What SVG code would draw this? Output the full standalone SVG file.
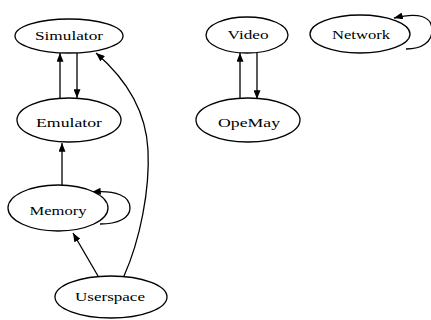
<svg xmlns="http://www.w3.org/2000/svg" width="431" height="320" viewBox="0 0 431 320">
<style>
.node ellipse{fill:#fff;stroke:#000;stroke-width:1.3}
.node text{font-family:"Liberation Serif","DejaVu Serif",serif;font-size:12px;fill:#000;text-anchor:middle}
.edges path{fill:none;stroke:#000;stroke-width:1.3}
</style>
<defs>
<marker id="ah" viewBox="0 0 10 8" refX="10" refY="4" markerWidth="9" markerHeight="7" markerUnits="userSpaceOnUse" orient="auto">
<path d="M0,0 L10,4 L0,8 Z" fill="#000"/>
</marker>
</defs>
<rect width="431" height="320" fill="#fff"/>
<g class="edges">
<path d="M60,98 L60,53" marker-end="url(#ah)"/>
<path d="M77,53 L77,98" marker-end="url(#ah)"/>
<path d="M62,186 L62,143" marker-end="url(#ah)"/>
<path d="M98,276 L73,233" marker-end="url(#ah)"/>
<path d="M124,276 C140,240 150,190 148,150 C146,110 125,78 96,53" marker-end="url(#ah)"/>
<path d="M100,224 C118,224 130,218 130,208 C130,196 116,190 92,192" marker-end="url(#ah)"/>
<path d="M240,99 L240,53" marker-end="url(#ah)"/>
<path d="M257,53 L257,99" marker-end="url(#ah)"/>
<path d="M406,49 C422,49 432,42 432,30 C432,16 418,12 394,18" marker-end="url(#ah)"/>
</g>
<g id="Simulator" class="node"><ellipse cx="69" cy="36" rx="54" ry="17"/><text x="69" y="40" textLength="68" lengthAdjust="spacingAndGlyphs">Simulator</text></g>
<g id="Emulator" class="node"><ellipse cx="69" cy="120" rx="52" ry="22"/><text x="69" y="127" textLength="66" lengthAdjust="spacingAndGlyphs">Emulator</text></g>
<g id="Memory" class="node"><ellipse cx="58" cy="208" rx="50" ry="23"/><text x="58" y="215" textLength="57" lengthAdjust="spacingAndGlyphs">Memory</text></g>
<g id="Userspace" class="node"><ellipse cx="111" cy="297" rx="56" ry="21"/><text x="110" y="301" textLength="70" lengthAdjust="spacingAndGlyphs">Userspace</text></g>
<g id="Video" class="node"><ellipse cx="247" cy="35" rx="41" ry="18"/><text x="248" y="39" textLength="41" lengthAdjust="spacingAndGlyphs">Video</text></g>
<g id="OpeMay" class="node"><ellipse cx="248" cy="120" rx="52" ry="22"/><text x="249" y="127" textLength="62" lengthAdjust="spacingAndGlyphs">OpeMay</text></g>
<g id="Network" class="node"><ellipse cx="360" cy="34" rx="50" ry="19"/><text x="361" y="39" textLength="58" lengthAdjust="spacingAndGlyphs">Network</text></g>
</svg>
